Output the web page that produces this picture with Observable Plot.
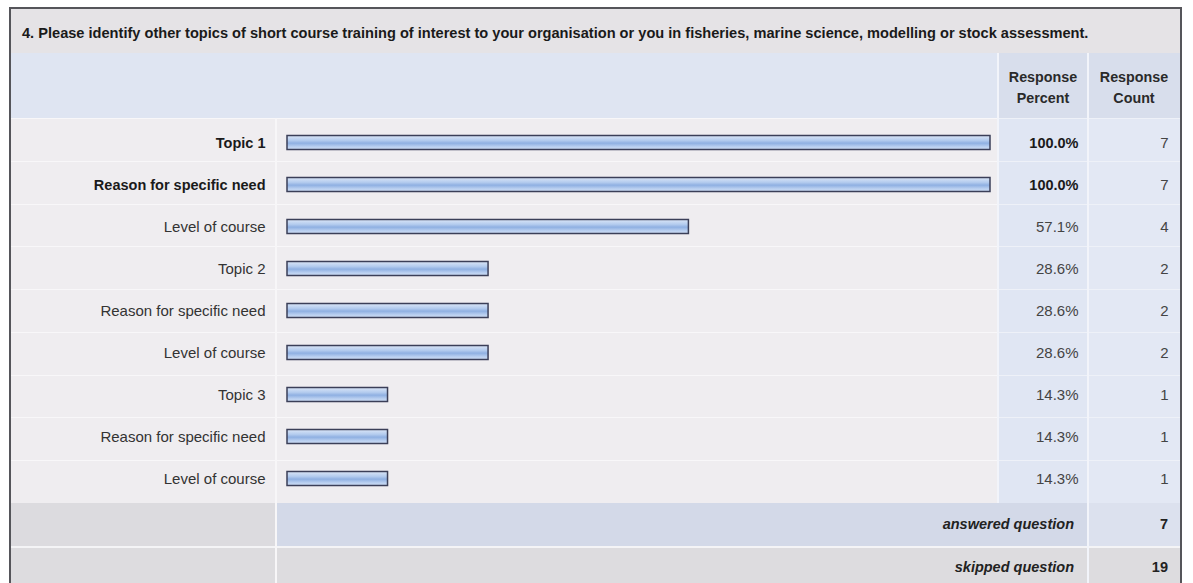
<!DOCTYPE html>
<html>
<head>
<meta charset="utf-8">
<script src="https://cdn.jsdelivr.net/npm/d3@7"></script>
<script src="https://cdn.jsdelivr.net/npm/@observablehq/plot@0.6"></script>
<style>
  html, body { margin:0; padding:0; background:#fff; }
  body { font-family: "Liberation Sans", Arial, sans-serif; font-size:14.6px; color:#222; }
  #wrap { position:relative; width:1193px; height:583px; overflow:hidden; background:#fff; }
  .box { position:absolute; box-sizing:border-box; }
  .txt { position:absolute; white-space:nowrap; line-height:1; }
  #chart { position:absolute; left:0; top:0; }
</style>
</head>
<body>
<div id="wrap"></div>
<script>
// ---- data ----
const title = "4. Please identify other topics of short course training of interest to your organisation or you in fisheries, marine science, modelling or stock assessment.";
const headerPercent = ["Response", "Percent"];
const headerCount = ["Response", "Count"];
const labels = ["Topic 1", "Reason for specific need", "Level of course", "Topic 2", "Reason for specific need", "Level of course", "Topic 3", "Reason for specific need", "Level of course"];
const percents = [100.0, 100.0, 57.1, 28.6, 28.6, 28.6, 14.3, 14.3, 14.3];
const counts = [7, 7, 4, 2, 2, 2, 1, 1, 1];
const boldRows = [true, true, false, false, false, false, false, false, false];
const footerLabels = ["answered question", "skipped question"];
const footerValues = [7, 19];

const rows = labels.map((label, i) => ({i, label, pct: percents[i], count: counts[i], bold: boldRows[i]}));

// ---- table chrome (HTML) ----
const wrap = document.getElementById("wrap");
function box(l, t, w, h, bg, extra) {
  const d = document.createElement("div");
  d.className = "box";
  Object.assign(d.style, {left: l + "px", top: t + "px", width: w + "px", height: h + "px", background: bg}, extra || {});
  wrap.appendChild(d);
  return d;
}
function txt(s, l, t, style) {
  const d = document.createElement("div");
  d.className = "txt";
  d.textContent = s;
  Object.assign(d.style, {left: l + "px", top: t + "px"}, style || {});
  wrap.appendChild(d);
  return d;
}
const L = 11, R = 1180, T = 9;
const colLabel = 276, colPct = 998, colCnt = 1088;
const headTop = 53, rowsTop = 118, rowsBot = 503, rowH = (rowsBot - rowsTop) / labels.length;

// title band
box(L, T, R - L, headTop - T, "#e5e3e6");
// header band
box(L, headTop, colPct - L, rowsTop - headTop, "#dfe5f2");
box(colPct, headTop, R - colPct, rowsTop - headTop, "#d8deec");
// rows
for (let k = 0; k < labels.length; k++) {
  const y = rowsTop + k * rowH;
  box(L, y, colPct - L, rowH, "#efedf0", {borderTop: "1px solid #f8f7f9"});
  box(colPct, y, colCnt - colPct, rowH, "#e0e6f3", {borderTop: "1px solid #eef1f8"});
  box(colCnt, y, R - colCnt, rowH, "#e3e8f4", {borderTop: "1px solid #eef1f8"});
}
// footer rows
const fH = 42.5;
box(L, rowsBot, colLabel - L, fH, "#dcdbdf");
box(colLabel, rowsBot, colCnt - colLabel, fH, "#d3d9e8");
box(colCnt, rowsBot, R - colCnt, fH, "#dce1ee");
box(L, rowsBot + fH, R - L, 583 - rowsBot - fH, "#dddcdf", {borderTop: "2px solid #f4f4f6"});
// vertical separators
box(colLabel - 1, rowsTop, 2, 583 - rowsTop, "#f7f6f8");
box(colPct - 1, headTop, 2, rowsBot - headTop, "#f2f4fa");
box(colCnt - 1, headTop, 2, 583 - headTop, "#f2f4fa");
// outer border
box(L - 2, T - 2, R - L + 4, 600, "transparent", {border: "2px solid #55555a"});

// texts
txt(title, 22, 26, {fontWeight: "bold", fontSize: "14.6px", color: "#1a1a1a"});
headerPercent.forEach((s, j) => txt(s, colPct, 70 + j * 21, {width: (colCnt - colPct) + "px", textAlign: "center", fontWeight: "bold", fontSize: "14.3px", color: "#2a2a2a"}));
headerCount.forEach((s, j) => txt(s, colCnt, 70 + j * 21, {width: (R - colCnt) + "px", textAlign: "center", fontWeight: "bold", fontSize: "14.3px", color: "#2a2a2a"}));
footerLabels.forEach((s, j) => {
  txt(s, 600, rowsBot + j * fH + 14, {width: "474px", textAlign: "right", fontWeight: "bold", fontStyle: "italic", fontSize: "14.5px", color: "#222"});
  txt(String(footerValues[j]), colCnt, rowsBot + j * fH + 14, {width: "80px", textAlign: "right", fontWeight: "bold", fontSize: "14.5px", color: "#222"});
});

// ---- chart (Plot) ----
const chart = Plot.plot({
  width: 1193,
  height: 583,
  marginLeft: 287,
  marginRight: 203,
  marginTop: rowsTop,
  marginBottom: 583 - rowsBot,
  x: {domain: [0, 100], axis: null},
  y: {type: "band", domain: d3.range(labels.length), padding: 0, axis: null},
  style: {background: "transparent", fontFamily: "'Liberation Sans', Arial, sans-serif", fontSize: "14.8px", color: "#222"},
  marks: [
    Plot.barX(rows, {x: "pct", y: "i", insetTop: 13.5, insetBottom: 14.5, fill: "url(#barGrad)", stroke: "#3b3f58", strokeWidth: 1.5}),
    Plot.text(rows.filter(d => d.bold), {y: "i", text: "label", frameAnchor: "left", dx: -22, textAnchor: "end", fontWeight: "bold", fontSize: 14.5, fill: "#1a1a1a"}),
    Plot.text(rows.filter(d => !d.bold), {y: "i", text: "label", frameAnchor: "left", dx: -22, textAnchor: "end", fontSize: 15, fill: "#333"}),
    Plot.text(rows.filter(d => d.bold), {y: "i", text: d => d.pct.toFixed(1) + "%", frameAnchor: "right", dx: 88, textAnchor: "end", fontWeight: "bold", fontSize: 14.5, fill: "#1a1a1a"}),
    Plot.text(rows.filter(d => !d.bold), {y: "i", text: d => d.pct.toFixed(1) + "%", frameAnchor: "right", dx: 88, textAnchor: "end", fontSize: 15, fill: "#444"}),
    Plot.text(rows, {y: "i", text: d => String(d.count), frameAnchor: "right", dx: 178, textAnchor: "end", fontSize: 15, fill: "#444"})
  ]
});
chart.id = "chart";
const ns = "http://www.w3.org/2000/svg";
const defs = document.createElementNS(ns, "defs");
defs.innerHTML = `<linearGradient id="barGrad" x1="0" y1="0" x2="0" y2="1">
  <stop offset="0" stop-color="#dbe6f7"/>
  <stop offset="0.35" stop-color="#b3cbee"/>
  <stop offset="0.55" stop-color="#8fb0e2"/>
  <stop offset="0.8" stop-color="#b9cff0"/>
  <stop offset="1" stop-color="#cddcf3"/>
</linearGradient>`;
chart.insertBefore(defs, chart.firstChild);
wrap.appendChild(chart);
</script>
</body>
</html>
